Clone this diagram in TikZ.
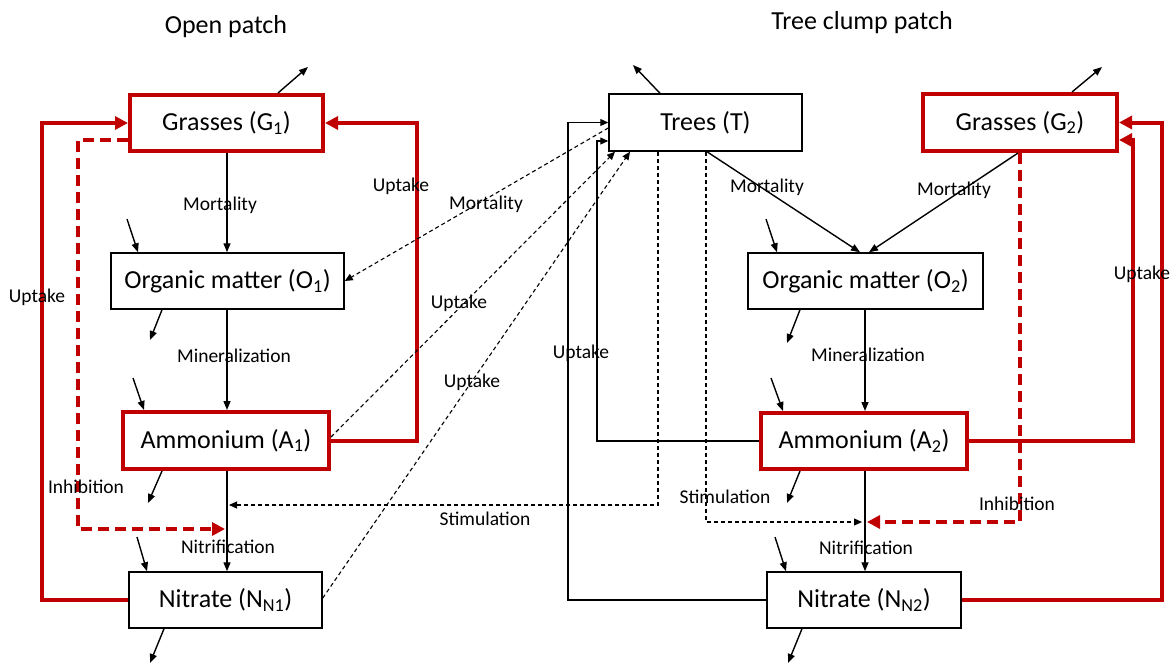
\documentclass[tikz,border=0pt]{standalone}
\usepackage{fontspec}
\setmainfont{Carlito}
\usetikzlibrary{arrows.meta,calc}
\definecolor{dred}{RGB}{192,0,0}
\begin{document}
\begin{tikzpicture}[x=1pt,y=-1pt,
  box/.style={draw=black, fill=white, line width=1.5pt, inner sep=0pt, minimum height=56pt, font=\fontsize{26}{30}\selectfont},
  rbox/.style={box, draw=dred, line width=4pt},
  lbl/.style={font=\fontsize{19.5}{24}\selectfont, inner sep=0pt},
  ttl/.style={font=\fontsize{26}{30}\selectfont, inner sep=0pt},
  flow/.style={line width=1.4pt, -{Triangle[length=9pt,width=7pt]}},
  tflow/.style={line width=1.1pt, -{Triangle[length=8pt,width=7pt]}},
  dflow/.style={line width=1.1pt, dash pattern=on 4pt off 3pt, -{Triangle[length=8pt,width=7pt]}},
  rflow/.style={draw=dred, line width=4pt, -{Triangle[length=13pt,width=13pt]}},
  rdflow/.style={rflow, dash pattern=on 11pt off 6pt}
]
\useasboundingbox (0,0) rectangle (1170,664);

% titles
\node[ttl] (t1) at (226,27) {Open patch};
\node[ttl] (t2) at (862,23) {Tree clump patch};

% boxes
\node[rbox, minimum width=193pt] (G1) at (226.5,123) {Grasses (G\textsubscript{1})};
\node[box, minimum width=233pt] (O1) at (227.5,281) {Organic matter (O\textsubscript{1})};
\node[rbox, minimum width=206pt, minimum height=57pt] (A1) at (226,440.5) {Ammonium (A\textsubscript{1})};
\node[box, minimum width=193pt] (N1) at (225.5,600) {Nitrate (N\textsubscript{N1})};
\node[box, minimum width=193pt, minimum height=57pt] (T) at (705.5,122.5) {Trees (T)};
\node[rbox, minimum width=194pt, minimum height=57pt] (G2) at (1020,122.5) {Grasses (G\textsubscript{2})};
\node[box, minimum width=235pt] (O2) at (865.5,281) {Organic matter (O\textsubscript{2})};
\node[rbox, minimum width=206pt] (A2) at (864,441) {Ammonium (A\textsubscript{2})};
\node[box, minimum width=194pt] (N2) at (864,600) {Nitrate (N\textsubscript{N2})};

% free ends of inflows / outflows
\coordinate (g1o) at (308,67);
\coordinate (o1i) at (127,219);
\coordinate (o1o) at (150,340);
\coordinate (a1i) at (133,378);
\coordinate (a1o) at (148,503);
\coordinate (n1i) at (137,537);
\coordinate (n1o) at (150,663);
\coordinate (to) at (633,65);
\coordinate (o2i) at (766,219);
\coordinate (o2o) at (787,343);
\coordinate (a2i) at (771,378);
\coordinate (a2o) at (787,503);
\coordinate (n2i) at (775,537);
\coordinate (n2o) at (788,663);
\coordinate (g2o) at (1102,67);

\draw[flow] (G1.north -| 278,0) -- (g1o);
\draw[flow] (o1i) -- (O1.north -| 138,0);
\draw[flow] (O1.south -| 162,0) -- (o1o);
\draw[flow] (a1i) -- (A1.north -| 144,0);
\draw[flow] (A1.south -| 162,0) -- (a1o);
\draw[flow] (n1i) -- (N1.north -| 147,0);
\draw[flow] (N1.south -| 164,0) -- (n1o);
\draw[flow] (T.north -| 660,0) -- (to);
\draw[flow] (o2i) -- (O2.north -| 777,0);
\draw[flow] (O2.south -| 800,0) -- (o2o);
\draw[flow] (a2i) -- (A2.north -| 783,0);
\draw[flow] (A2.south -| 800,0) -- (a2o);
\draw[flow] (n2i) -- (N2.north -| 786,0);
\draw[flow] (N2.south -| 802,0) -- (n2o);
\draw[flow] (G2.north -| 1072,0) -- (g2o);

% open patch vertical flows
\draw[flow] (G1.south -| 227,0) -- (O1.north -| 227,0);
\draw[flow] (O1.south -| 227,0) -- (A1.north -| 227,0);
\draw[flow] (A1.south -| 227,0) -- (N1.north -| 227,0);

% tree clump vertical flows
\draw[flow] (O2.south -| 865,0) -- (A2.north -| 865,0);
\draw[flow] (A2.south -| 865,0) -- (N2.north -| 865,0);
\draw[flow] (T.south -| 707,0) -- (O2.north -| 860,0);
\draw[flow] (G2.south -| 1018,0) -- (O2.north -| 869,0);

% red uptake loops (open patch)
\draw[rflow] (N1.west) -- (N1.west -| 42,0) -- (G1.west -| 42,0) -- (G1.west);
\draw[rflow] (A1.east) -- (A1.east -| 417,0) -- (G1.east -| 417,0) -- (G1.east);
% red inhibition (open patch)
\draw[rdflow] (G1.west |- 0,140) -- (78,140) -- (78,529) -- (225,529);

% red uptake loops (tree clump)
\draw[rflow] (A2.east) -- (A2.east -| 1133,0) -- (1133,140) -- (G2.east |- 0,140);
\draw[rflow] (N2.east) -- (N2.east -| 1162,0) -- (G2.east -| 1162,0) -- (G2.east);
% red inhibition (tree clump)
\draw[rdflow] (G2.south -| 1020,0) -- (1020,522) -- (867,522);

% tree uptake (solid thin)
\draw[tflow] (N2.west) -- (N2.west -| 568,0) -- (T.west -| 568,0) -- (T.west);
\draw[tflow] (A2.west) -- (A2.west -| 597,0) -- (597,141) -- (T.west |- 0,141);

% tree dashed links
\draw[dflow] (T.west |- 0,128) -- (O1.east);
\draw[dflow] (A1.east |- 0,437) -- (T.south -| 615,0);
\draw[dflow] (N1.east |- 0,598) -- (T.south -| 630,0);
\draw[dflow] (T.south -| 658,0) -- (658,505) -- (229,505);
\draw[dflow] (T.south -| 706,0) -- (706,522) -- (862,522);

% labels
\node[lbl] (l1) at (220,205) {Mortality};
\node[lbl] (l2) at (234,356) {Mineralization};
\node[lbl] (l3) at (228,547) {Nitrification};
\node[lbl] (l4) at (37,297) {Uptake};
\node[lbl] (l5) at (401,186) {Uptake};
\node[lbl] (l6) at (86,487) {Inhibition};
\node[lbl] (l7) at (486,204) {Mortality};
\node[lbl] (l8) at (459,303) {Uptake};
\node[lbl] (l9) at (472,382) {Uptake};
\node[lbl] (l10) at (581,353) {Uptake};
\node[lbl] (l11) at (485,519) {Stimulation};
\node[lbl] (l12) at (767,187) {Mortality};
\node[lbl] (l13) at (954,190) {Mortality};
\node[lbl] (l14) at (868,355) {Mineralization};
\node[lbl] (l15) at (725,497) {Stimulation};
\node[lbl] (l16) at (866,548) {Nitrification};
\node[lbl] (l17) at (1017,504) {Inhibition};
\node[lbl] (l18) at (1142,274) {Uptake};
\end{tikzpicture}
\end{document}
